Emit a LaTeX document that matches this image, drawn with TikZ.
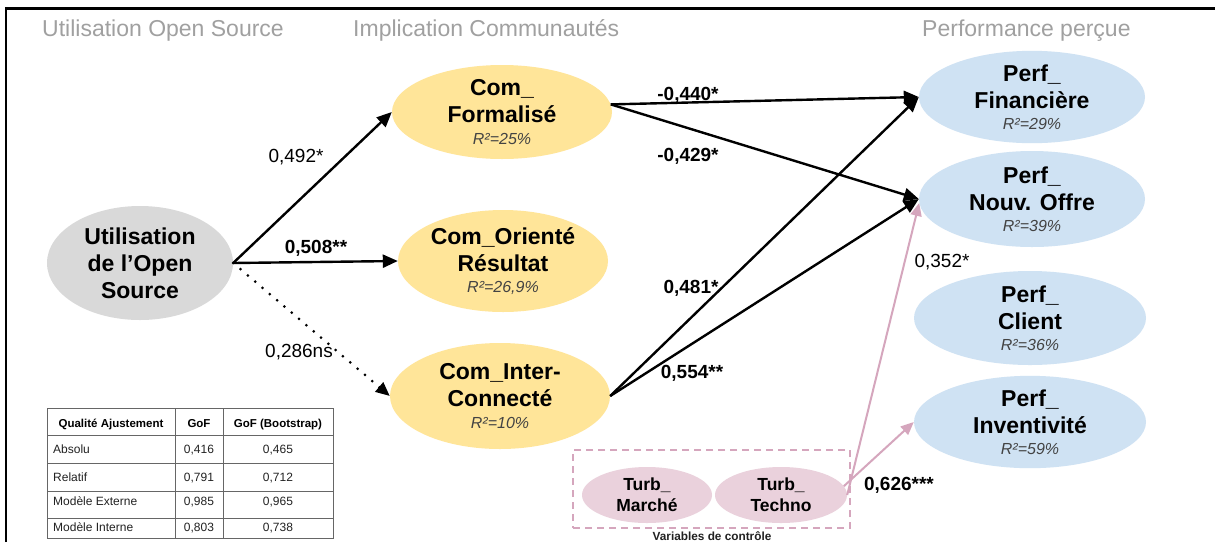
\documentclass[tikz,border=0pt]{standalone}
\usepackage{fontspec}
\setmainfont{Liberation Sans}
\usetikzlibrary{arrows.meta,shapes.geometric}

\definecolor{osgray}{HTML}{D9D9D9}
\definecolor{comyel}{HTML}{FFE599}
\definecolor{perfblue}{HTML}{CFE2F3}
\definecolor{turbpink}{HTML}{EAD1DC}
\definecolor{pinkline}{HTML}{D5A6BD}
\definecolor{hdrgray}{HTML}{A0A0A0}
\definecolor{rsqgray}{HTML}{434343}
\definecolor{tblline}{HTML}{666666}
\definecolor{tbltext}{HTML}{222222}

% R-squared line under a construct name
\newcommand{\rsqline}[1]{{\fontsize{16}{19}\selectfont\mdseries\itshape\color{rsqgray}#1}}

\begin{document}
\begin{tikzpicture}[x=1pt,y=-1pt,
  oval/.style={ellipse, inner sep=0pt, align=center,
               font=\fontsize{23}{27}\selectfont\bfseries},
  turb/.style={ellipse, inner sep=0pt, align=center, fill=turbpink,
               font=\fontsize{17.5}{21}\selectfont\bfseries},
  hdr/.style={anchor=base west, inner sep=0pt, text=hdrgray,
              font=\fontsize{23}{27}\selectfont},
  lab/.style={anchor=base, inner sep=0pt, font=\fontsize{19}{22}\selectfont},
  blab/.style={lab, font=\fontsize{19}{22}\selectfont\bfseries},
  blk/.style={line width=2.4pt, -{Triangle[length=15pt,width=13pt]}},
  blkdot/.style={line width=3pt, line cap=round, dash pattern=on 0pt off 9.6pt,
                 -{Triangle[length=14pt,width=12pt]}},
  pnk/.style={draw=pinkline, line width=2pt, -{Triangle[length=13pt,width=11pt]}},
  tbl/.style={draw=tblline, line width=1pt},
  thd/.style={anchor=base, inner sep=0pt, text=black,
              font=\fontsize{11.5}{14}\selectfont\bfseries},
  tcell/.style={anchor=base, inner sep=0pt, text=tbltext,
                font=\fontsize{12}{14}\selectfont},
  tfirst/.style={tcell, anchor=base west}
]
\fill[white] (0,0) rectangle (1215,542);
\useasboundingbox (0,0) rectangle (1215,542);

% frame edges
\draw[line width=2.5pt] (6,542) -- (6,8.5) -- (1215,8.5);

% column headings
\node[hdr] (h1) at (42,36) {Utilisation Open Source};
\node[hdr] (h2) at (353,36) {Implication Communautés};
\node[hdr] (h3) at (922,36) {Performance perçue};

% constructs
\node[oval, fill=osgray, minimum width=186pt, minimum height=114pt] (U) at (140,263)
  {Utilisation\\de l’Open\\Source};

\node[oval, fill=comyel, minimum width=220pt, minimum height=94pt] (CF) at (502,112)
  {Com\_\\Formalisé\\[-5.5pt]\rsqline{R²=25\%}};
\node[oval, fill=comyel, minimum width=210pt, minimum height=102pt] (CO) at (503,261)
  {Com\_Orienté\\Résultat\\[-5.5pt]\rsqline{R²=26,9\%}};
\node[oval, fill=comyel, minimum width=220pt, minimum height=106pt] (CI) at (500,396)
  {Com\_Inter-\\Connecté\\[-5.5pt]\rsqline{R²=10\%}};

\node[oval, fill=perfblue, minimum width=226pt, minimum height=86pt] (PF) at (1032,97)
  {Perf\_\\Financière\\[-5.5pt]\rsqline{R²=29\%}};
\node[oval, fill=perfblue, minimum width=226pt, minimum height=96pt] (PN) at (1032,199)
  {Perf\_\\Nouv. Offre\\[-5.5pt]\rsqline{R²=39\%}};
\node[oval, fill=perfblue, minimum width=232pt, minimum height=94pt] (PC) at (1030,318)
  {Perf\_\\Client\\[-5.5pt]\rsqline{R²=36\%}};
\node[oval, fill=perfblue, minimum width=232pt, minimum height=92pt] (PI) at (1030,422)
  {Perf\_\\Inventivité\\[-5.5pt]\rsqline{R²=59\%}};

% control variables
\node[draw=pinkline, line width=2pt, dash pattern=on 7pt off 5pt,
      minimum width=277pt, minimum height=78pt, inner sep=0pt] (CTRL) at (711.5,489) {};
\node[turb, minimum width=130pt, minimum height=56pt] (TM) at (647,495) {Turb\_\\Marché};
\node[turb, minimum width=132pt, minimum height=56pt] (TT) at (781,495) {Turb\_\\Techno};
\node[anchor=base, inner sep=0pt, text=tbltext,
      font=\fontsize{11.8}{14}\selectfont\bfseries] (CTRLlab) at (712,540) {Variables de contrôle};

% paths
\draw[blk] (U.east) -- (CF.west);
\draw[blk] (U.east) -- (CO.west);
\draw[blkdot] (U.east) -- (CI.west);
\draw[blk] (CF.4) -- (PF.west);
\draw[blk] (CF.4) -- (PN.west);
\draw[blk] (CI.east) -- (PF.west);
\draw[blk] (CI.east) -- (PN.west);
\draw[pnk] (TT.east) -- (PN.182);
\draw[pnk] (TT.8) -- (PI.west);

% path coefficients
\node[lab]  (l1) at (296,162) {0,492*};
\node[blab] (l2) at (316,253) {0,508**};
\node[lab]  (l3) at (299,357) {0,286ns};
\node[blab] (l4) at (688,100) {-0,440*};
\node[blab] (l5) at (688,161) {-0,429*};
\node[blab] (l6) at (691,293) {0,481*};
\node[blab] (l7) at (692,378) {0,554**};
\node[lab]  (l8) at (942,267) {0,352*};
\node[blab] (l9) at (899,490) {0,626***};

% goodness-of-fit table
\draw[tbl] (47,408) rectangle (333,538.5);
\foreach \yy in {435,463,491,518} \draw[tbl] (47,\yy) -- (333,\yy);
\foreach \xx in {175,223} \draw[tbl] (\xx,408) -- (\xx,538.5);

\node[thd] (t00) at (111,427) {Qualité Ajustement};
\node[thd] (t01) at (199,427) {GoF};
\node[thd] (t02) at (278,427) {GoF (Bootstrap)};

\node[tfirst] (t10) at (53,453) {Absolu};
\node[tcell]  (t11) at (199,453) {0,416};
\node[tcell]  (t12) at (278,453) {0,465};
\node[tfirst] (t20) at (53,481) {Relatif};
\node[tcell]  (t21) at (199,481) {0,791};
\node[tcell]  (t22) at (278,481) {0,712};
\node[tfirst] (t30) at (53,505.5) {Modèle Externe};
\node[tcell]  (t31) at (199,505.5) {0,985};
\node[tcell]  (t32) at (278,505.5) {0,965};
\node[tfirst] (t40) at (53,531) {Modèle Interne};
\node[tcell]  (t41) at (199,531) {0,803};
\node[tcell]  (t42) at (278,531) {0,738};
\end{tikzpicture}
\end{document}
